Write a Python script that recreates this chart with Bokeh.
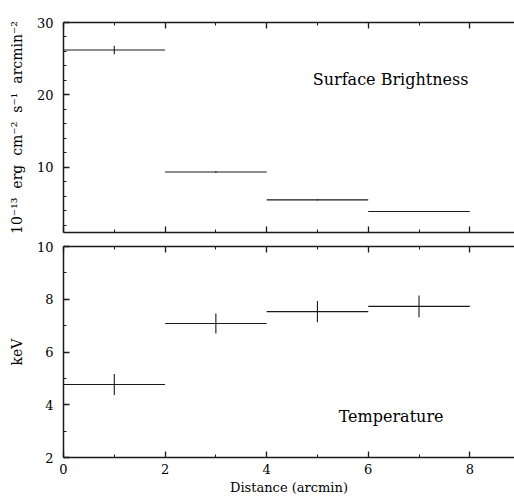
import numpy as np
from bokeh.plotting import figure
from bokeh.layouts import column
from bokeh.models import (FixedTicker, LinearAxis, Label, ColumnDataSource, Range1d,
                          CustomJSTickFormatter)
from bokeh.embed import file_html
from bokeh.resources import INLINE

# ---- data ----
bin_lo = [0, 2, 4, 6]
bin_hi = [2, 4, 6, 8]
bin_mid = [1, 3, 5, 7]
sb_val = [26.2, 9.35, 5.5, 3.9]
sb_err = [0.6, 0.12, 0.08, 0.08]
kt_val = [4.77, 7.08, 7.53, 7.73]
kt_err = [0.40, 0.38, 0.40, 0.41]

x_major = [0, 2, 4, 6, 8]
x_minor = [1, 3, 5, 7]
sb_major = [10, 20, 30]
sb_minor = [2, 4, 6, 8, 12, 14, 16, 18, 22, 24, 26, 28]
kt_major = [2, 4, 6, 8, 10]
kt_minor = [3, 5, 7, 9]

SERIF = "DejaVu Serif"
INK = "#1a1a1a"
NB = "\u00a0"


def style_axis(ax, labels=True):
    ax.axis_line_color = INK
    ax.axis_line_width = 1.5
    ax.major_tick_in = 6
    ax.major_tick_out = 0
    ax.minor_tick_in = 3
    ax.minor_tick_out = 0
    ax.major_tick_line_color = INK
    ax.minor_tick_line_color = INK
    ax.major_tick_line_width = 1.3
    ax.minor_tick_line_width = 1.0
    ax.major_label_text_font = SERIF
    ax.major_label_text_font_size = "13px"
    ax.major_label_text_color = "black"
    ax.axis_label_text_font = SERIF
    ax.axis_label_text_font_size = "14px"
    ax.axis_label_text_font_style = "normal"
    ax.axis_label_text_color = "black"
    if not labels:
        ax.formatter = CustomJSTickFormatter(code="return ''")
        ax.major_label_standoff = 0
        ax.axis_label = None


def make_panel(height, yr, y_major, y_minor, vals, errs, ylabel, mb_top, mb_bottom, x_labels):
    p = figure(width=514, height=height, x_range=Range1d(0, 8.88), y_range=Range1d(*yr),
               output_backend="svg", toolbar_location=None,
               min_border_left=63, min_border_right=0,
               min_border_top=mb_top, min_border_bottom=mb_bottom)
    p.outline_line_color = None
    p.xgrid.visible = False
    p.ygrid.visible = False
    p.background_fill_color = "white"
    p.border_fill_color = "white"

    p.xaxis.ticker = FixedTicker(ticks=x_major, minor_ticks=x_minor)
    p.yaxis.ticker = FixedTicker(ticks=y_major, minor_ticks=y_minor)
    style_axis(p.xaxis[0], labels=x_labels)
    style_axis(p.yaxis[0])
    p.yaxis.axis_label = ylabel
    p.yaxis.major_label_standoff = 10
    p.yaxis.axis_label_standoff = 9
    if x_labels:
        p.xaxis.axis_label = "Distance (arcmin)"
        p.xaxis.axis_label_text_font_size = "13px"
        p.xaxis.major_label_standoff = 6
        p.xaxis.axis_label_standoff = 3

    top = LinearAxis(ticker=FixedTicker(ticks=x_major, minor_ticks=x_minor))
    style_axis(top, labels=False)
    p.add_layout(top, "above")

    v = np.array(vals)
    e = np.array(errs)
    src = ColumnDataSource(dict(lo=bin_lo, hi=bin_hi, mid=bin_mid, v=v, vlo=v - e, vhi=v + e))
    p.segment(x0="lo", y0="v", x1="hi", y1="v", source=src, line_color=INK, line_width=1.1)
    p.segment(x0="mid", y0="vlo", x1="mid", y1="vhi", source=src, line_color=INK, line_width=1.1)
    return p


ylabel_sb = ("10\u207b\u00b9\u00b3" + NB + NB + "erg" + NB + " cm\u207b\u00b2" + NB
             + " s\u207b\u00b9" + NB + " arcmin\u207b\u00b2")
p1 = make_panel(238, (1, 30), sb_major, sb_minor, sb_val, sb_err, ylabel_sb, 22, 6, False)
p1.add_layout(Label(x=6.44, y=22.1, text="Surface Brightness", text_align="center",
                    text_baseline="middle", text_font=SERIF, text_font_size="16px",
                    text_color="black"))

p2 = make_panel(260, (2, 10), kt_major, kt_minor, kt_val, kt_err, "keV", 8, 41, True)
p2.add_layout(Label(x=6.45, y=3.57, text="Temperature", text_align="center",
                    text_baseline="middle", text_font=SERIF, text_font_size="16px",
                    text_color="black"))

layout = column(p1, p2, spacing=0)
open("out.html", "w").write(file_html(layout, INLINE))
